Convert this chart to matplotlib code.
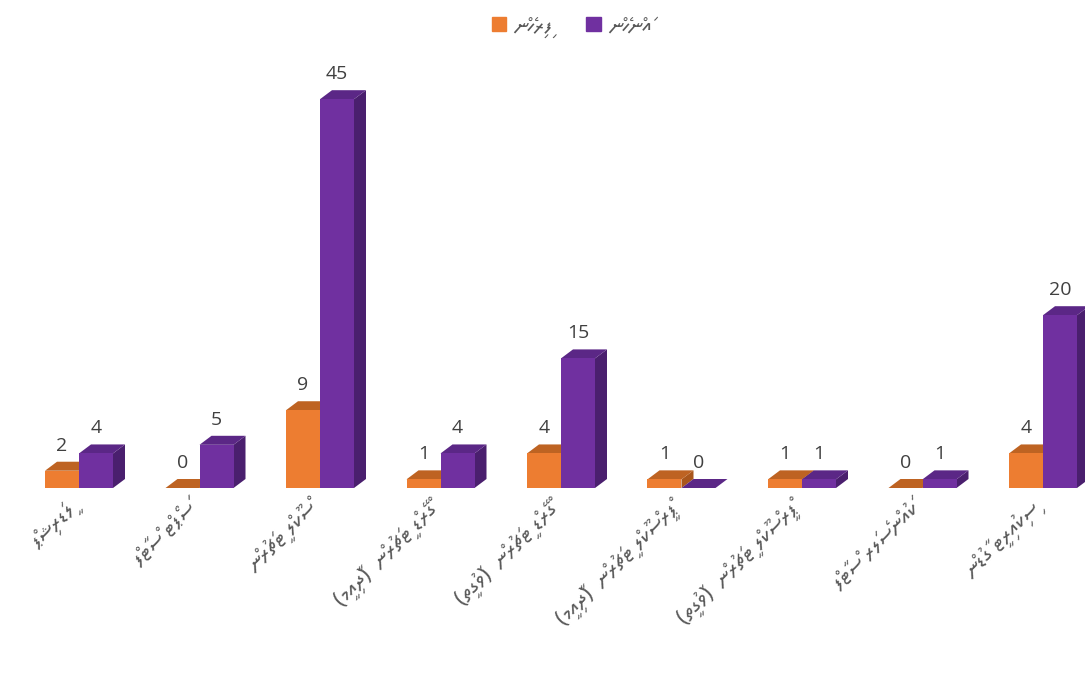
import numpy as np
import matplotlib
matplotlib.use("Agg")
import matplotlib.pyplot as plt
from matplotlib.patches import Patch, Polygon
from matplotlib.transforms import ScaledTranslation

# category labels (Dhivehi, logical order)
categories = [
    "ލީޑަރޝިޕް",
    "ސަޕޯޓް ސްޓާފް",
    "ސްކޫލް ޓީޗަރުން",
    "ގްރޭޑް ޓީޗަރުން  (ދާއިމީ)",
    "ގްރޭޑް ޓީޗަރުން  (ވަގުތީ)",
    "ޕްރީސްކޫލް ޓީޗަރުން  (ދާއިމީ)",
    "ޕްރީސްކޫލް ޓީޗަރުން  (ވަގުތީ)",
    "ކައުންސެލަރ ސްޓާފް",
    "ސިކިއުރިޓީ ގާޑުން",
]
series_names = ["ފިރިހެން", "އަންހެން"]
male = [2, 0, 9, 1, 4, 1, 1, 0, 4]
female = [4, 5, 45, 4, 15, 0, 1, 1, 20]

ORANGE = ("#ED7D31", "#BE6322", "#A9561B")   # front, top, side
PURPLE = ("#7030A0", "#5B2786", "#4A1F6E")
THAANA = ["Noto Sans Thaana", "DejaVu Sans"]


def visual(s):
    """Thaana is RTL; matplotlib lays text out LTR, so flip clusters."""
    clusters = []
    for ch in s:
        if 0x07A6 <= ord(ch) <= 0x07B0 and clusters:
            clusters[-1] += ch
        else:
            clusters.append(ch)
    mirror = {"(": ")", ")": "("}
    return "".join(mirror.get(c, c) for c in reversed(clusters))


W, H = 1085, 700
fig = plt.figure(figsize=(W / 100, H / 100), dpi=100)
ax = fig.add_axes([0, 212 / H, 1, 432 / H])

step = 120.5          # px per category
ax.set_xlim(-79 / step, (W - 79) / step)
ax.set_ylim(0, 50)
px_y = 432 / 50

w = 34 / step
ddx = 12 / step
ddy = 9 / px_y

x = np.arange(len(categories))


def bars3d(xs, vals, colors, z):
    front, top, side = colors
    bars = ax.bar(xs, vals, width=w, color=front, linewidth=0, zorder=z + 0.5)
    for b in bars:
        x0 = b.get_x()
        x1 = x0 + b.get_width()
        h = b.get_height()
        ax.add_patch(Polygon([(x1, 0), (x1 + ddx, ddy), (x1 + ddx, h + ddy), (x1, h)],
                             closed=True, color=side, linewidth=0, zorder=z))
        ax.add_patch(Polygon([(x0, h), (x1, h), (x1 + ddx, h + ddy), (x0 + ddx, h + ddy)],
                             closed=True, color=top, linewidth=0, zorder=z))
        ax.annotate(f"{h:g}", xy=(x0 + w / 2, h + ddy), xytext=(0, 5),
                    textcoords="offset points", ha="center", va="bottom",
                    fontsize=14, color="#404040", family="Open Sans", zorder=5)
    return bars


bars3d(x - w / 2, male, ORANGE, 1)
bars3d(x + w / 2, female, PURPLE, 2)

ax.set_xticks(x)
ax.set_xticklabels([visual(c) for c in categories], rotation=45, ha="right",
                   rotation_mode="anchor", family=THAANA, fontsize=16,
                   color="#595959")
ax.tick_params(axis="x", length=0, pad=8)
shift = ScaledTranslation(-14 / 100, 0, fig.dpi_scale_trans)
for lab in ax.get_xticklabels():
    lab.set_transform(lab.get_transform() + shift)
ax.set_yticks([])
for s in ax.spines.values():
    s.set_visible(False)

handles = [Patch(color=ORANGE[0]), Patch(color=PURPLE[0])]
fig.legend(handles, [visual(n) for n in series_names], loc="upper center",
           bbox_to_anchor=(0.527, 1.005), ncol=2, frameon=False,
           handlelength=0.7, handleheight=0.7, handletextpad=0.4,
           columnspacing=1.6,
           prop={"family": THAANA, "size": 15}, labelcolor="#595959")

fig.savefig("out.png", dpi=100)
